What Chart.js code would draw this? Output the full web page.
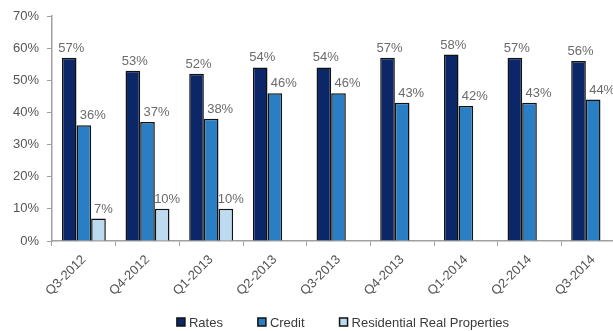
<!DOCTYPE html>
<html>
<head>
<meta charset="utf-8">
<script src="https://cdn.jsdelivr.net/npm/chart.js@4.4.0/dist/chart.umd.min.js"></script>
<style>
    html, body { margin: 0; padding: 0; background: #fff; overflow: hidden; }
    #wrap { width: 625px; height: 331px; }
</style>
</head>
<body>
<div id="wrap"><canvas id="mixChart" width="625" height="331"></canvas></div>
<script>
// Quarters on the x axis
const quarters = ['Q3-2012', 'Q4-2012', 'Q1-2013', 'Q2-2013', 'Q3-2013', 'Q4-2013', 'Q1-2014', 'Q2-2014', 'Q3-2014'];

// Share of each business line (%)
const rates = [57, 53, 52, 54, 54, 57, 58, 57, 56];
const credit = [36, 37, 38, 46, 46, 43, 42, 43, 44];
const residential = [7, 10, 10, null, null, null, null, null, null];

// Y axis ticks
const yTicks = [0, 10, 20, 30, 40, 50, 60, 70];

const FONT = '"Liberation Sans", Arial, sans-serif';

// Draw the value above each bar (labels sit a little right of centre, like the original)
const labelShift = [2, 9, 5];
const barValueLabels = {
    id: 'barValueLabels',
    afterDatasetsDraw(chart) {
        const ctx = chart.ctx;
        ctx.save();
        ctx.font = '13px ' + FONT;
        ctx.fillStyle = '#6b6b6b';
        ctx.textAlign = 'center';
        ctx.textBaseline = 'alphabetic';
        chart.data.datasets.forEach((ds, i) => {
            const meta = chart.getDatasetMeta(i);
            meta.data.forEach((bar, j) => {
                const v = ds.data[j];
                if (v === null) return;
                ctx.fillText(v + '%', bar.x + labelShift[i], bar.y - 6);
            });
        });
        ctx.restore();
    }
};

// Legend drawn by hand so the spacing matches the original
const bottomLegend = {
    id: 'bottomLegend',
    afterDraw(chart) {
        const ctx = chart.ctx;
        const box = 8, textGap = 4, itemGap = 35, centreX = 343, y = 322;
        ctx.save();
        ctx.font = '13px ' + FONT;
        ctx.textBaseline = 'middle';
        ctx.textAlign = 'left';
        const items = chart.data.datasets.map(ds => ({
            text: ds.label,
            fill: ds.backgroundColor,
            w: box + textGap + ctx.measureText(ds.label).width
        }));
        const total = items.reduce((s, it) => s + it.w, 0) + itemGap * (items.length - 1);
        let x = centreX - total / 2;
        items.forEach(it => {
            ctx.fillStyle = it.fill;
            ctx.fillRect(x, y - box / 2, box, box);
            ctx.strokeStyle = '#111111';
            ctx.lineWidth = 1.5;
            ctx.strokeRect(x, y - box / 2, box, box);
            ctx.fillStyle = '#3a3a3a';
            ctx.fillText(it.text, x + box + textGap, y + 1);
            x += it.w + itemGap;
        });
        ctx.restore();
    }
};

function initializeChart() {
    new Chart(document.getElementById('mixChart'), {
        type: 'bar',
        data: {
            labels: quarters,
            datasets: [{
                label: 'Rates',
                data: rates,
                backgroundColor: '#0b2767',
                borderColor: '#111111',
                borderWidth: 1.5
            }, {
                label: 'Credit',
                data: credit,
                backgroundColor: '#2a7fc4',
                borderColor: '#111111',
                borderWidth: 1.5
            }, {
                label: 'Residential Real Properties',
                data: residential,
                backgroundColor: '#bcdaf0',
                borderColor: '#111111',
                borderWidth: 1.5
            }]
        },
        options: {
            responsive: false,
            animation: false,
            layout: {
                padding: { top: 16, left: 0, right: 0, bottom: 30 }
            },
            datasets: {
                bar: {
                    categoryPercentage: 0.69,
                    barPercentage: 1.0,
                    borderSkipped: 'bottom'
                }
            },
            plugins: {
                legend: { display: false },
                tooltip: { enabled: false }
            },
            scales: {
                x: {
                    grid: {
                        display: true,
                        drawOnChartArea: false,
                        offset: true,
                        tickLength: 5,
                        color: '#a0a0a0'
                    },
                    border: { color: '#a0a0a0', width: 1.5 },
                    ticks: {
                        minRotation: 45,
                        maxRotation: 45,
                        padding: 6,
                        color: '#555555',
                        font: { family: FONT, size: 13 }
                    },
                    afterFit(scale) { scale.height = 60; }
                },
                y: {
                    min: 0,
                    max: 70,
                    afterBuildTicks(scale) {
                        scale.ticks = yTicks.map(v => ({ value: v }));
                    },
                    grid: {
                        display: true,
                        drawOnChartArea: false,
                        tickLength: 5,
                        color: '#a0a0a0'
                    },
                    border: { color: '#a0a0a0', width: 1.5 },
                    ticks: {
                        color: '#555555',
                        padding: 8,
                        font: { family: FONT, size: 13 },
                        callback: v => v + '%'
                    },
                    afterFit(scale) { scale.width = 52; }
                }
            }
        },
        plugins: [barValueLabels, bottomLegend]
    });
}

document.addEventListener('DOMContentLoaded', initializeChart);
</script>
</body>
</html>
